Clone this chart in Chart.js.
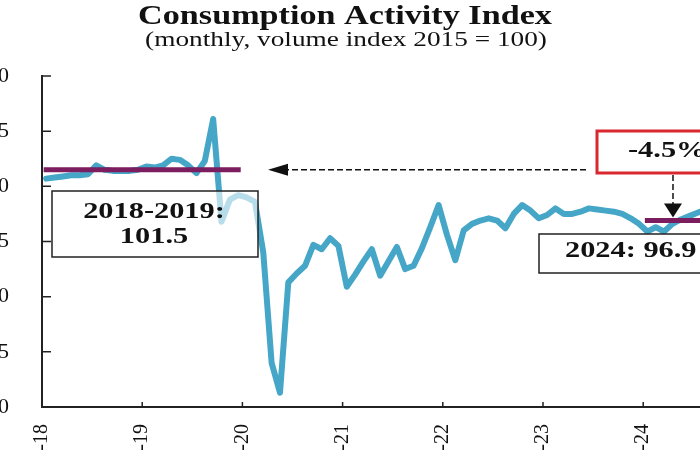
<!DOCTYPE html>
<html lang="en">
<head>
<meta charset="UTF-8">
<title>Consumption Activity Index</title>
<style>
  html, body { margin: 0; padding: 0; background: #fff; overflow: hidden; }
  .frame { position: relative; width: 700px; height: 450px; overflow: hidden; }
  #chart { position: absolute; left: -30px; top: 0; }
</style>
</head>
<body>
<div class="frame"><canvas id="chart" width="780" height="480"></canvas></div>
<script src="https://cdn.jsdelivr.net/npm/chart.js"></script>
<script>
// monthly index values, Jan-18 .. Aug-24
const values2018 = [100.7, 100.8, 100.9, 101.0, 101.0, 101.1, 101.9, 101.5, 101.4, 101.4, 101.4, 101.5];
const values2019 = [101.8, 101.7, 101.9, 102.5, 102.4, 101.9, 101.2, 102.3, 106.1, 96.8, 98.8, 99.2];
const values2020 = [99.0, 98.6, 94.0, 84.0, 81.3, 91.3, 92.1, 92.8, 94.7, 94.3, 95.3, 94.6];
const values2021 = [90.9, 92.0, 93.2, 94.3, 91.9, 93.2, 94.5, 92.5, 92.8, 94.4, 96.3, 98.3];
const values2022 = [95.6, 93.3, 96.0, 96.6, 96.9, 97.1, 96.9, 96.2, 97.5, 98.3, 97.8, 97.1];
const values2023 = [97.4, 98.0, 97.5, 97.5, 97.7, 98.0, 97.9, 97.8, 97.7, 97.5, 97.1, 96.6];
const values2024 = [95.9, 96.3, 95.9, 96.6, 97.0, 97.3, 97.6, 97.9];

// x tick labels, one per January
const yearLabels = ['Jan-18', 'Jan-19', 'Jan-20', 'Jan-21', 'Jan-22', 'Jan-23', 'Jan-24'];
const yTicks = [80, 85, 90, 95, 100, 105, 110];

// period averages: first and last month index, value
const avgPre = { from: 0, to: 23, value: 101.5 };   // 2018-2019
const avg2024 = { from: 72, to: 83, value: 96.9 };  // 2024
const changeLabel = '-4.5%';

const allValues = [].concat(values2018, values2019, values2020, values2021, values2022, values2023, values2024);
// points sit in the middle of their month
const mainPoints = allValues.map((v, i) => ({ x: i + 0.5, y: v }));
const avgLine = p => [{ x: p.from + 0.5, y: p.value }, { x: p.to + 0.5, y: p.value }];

const SHIFT = 30;      // canvas sits 30px left of the frame
const serif = '"Liberation Serif", "Times New Roman", serif';

// the original picture is stretched sideways, so text gets a horizontal scale
function wideText(ctx, text, x, y, font, align, sx) {
    ctx.save();
    ctx.font = font;
    ctx.textAlign = align || 'center';
    ctx.textBaseline = 'alphabetic';
    ctx.fillStyle = '#111';
    ctx.translate(x + SHIFT, y);
    ctx.scale(sx || 1.32, 1);
    ctx.fillText(text, 0, 0);
    ctx.restore();
}

function arrowHead(ctx, tipX, tipY, dir, len, half) {
    ctx.beginPath();
    if (dir === 'left') {
        ctx.moveTo(tipX, tipY);
        ctx.lineTo(tipX + len, tipY - half);
        ctx.lineTo(tipX + len, tipY + half);
    } else {
        ctx.moveTo(tipX, tipY);
        ctx.lineTo(tipX - half, tipY - len);
        ctx.lineTo(tipX + half, tipY - len);
    }
    ctx.closePath();
    ctx.fill();
}

// tick marks drawn inward, like the original
const inwardTicks = {
    id: 'inwardTicks',
    beforeDatasetsDraw(chart) {
        const { ctx, chartArea: a, scales: { x, y } } = chart;
        ctx.save();
        ctx.strokeStyle = '#222';
        ctx.lineWidth = 1.5;
        ctx.beginPath();
        y.ticks.forEach(t => {
            const py = y.getPixelForValue(t.value);
            ctx.moveTo(a.left, py);
            ctx.lineTo(a.left + 9, py);
        });
        x.ticks.forEach(t => {
            if (t.value === 0 || t.value >= 84) return;
            const px = x.getPixelForValue(t.value);
            ctx.moveTo(px, a.bottom);
            ctx.lineTo(px, a.bottom - 5);
        });
        ctx.stroke();
        ctx.restore();
    }
};

const notes = {
    id: 'notes',
    afterDatasetsDraw(chart) {
        const { ctx, scales: { y } } = chart;
        ctx.save();

        // 2018-2019 box (see-through so the line shows faintly)
        ctx.fillStyle = 'rgba(255,255,255,0.62)';
        ctx.strokeStyle = '#222';
        ctx.lineWidth = 1.5;
        ctx.fillRect(52 + SHIFT, 191, 206, 66);
        ctx.strokeRect(52 + SHIFT, 191, 206, 66);
        wideText(ctx, '2018-2019:', 154, 218, 'bold 23px ' + serif);
        wideText(ctx, avgPre.value.toFixed(1), 154, 243, 'bold 23px ' + serif);

        // 2024 box
        ctx.fillStyle = '#fff';
        ctx.fillRect(539 + SHIFT, 234, 230, 39);
        ctx.strokeRect(539 + SHIFT, 234, 230, 39);
        wideText(ctx, '2024: ' + avg2024.value.toFixed(1), 565, 257, 'bold 23px ' + serif, 'left');

        // red change box
        ctx.strokeStyle = '#d9282d';
        ctx.lineWidth = 3;
        ctx.fillRect(597 + SHIFT, 131, 200, 42);
        ctx.strokeRect(597 + SHIFT, 131, 200, 42);
        wideText(ctx, changeLabel, 628, 157, 'bold 23px ' + serif, 'left');

        // dashed arrows
        ctx.strokeStyle = '#111';
        ctx.fillStyle = '#111';
        ctx.lineWidth = 1.5;
        ctx.setLineDash([6, 3]);
        const ay = y.getPixelForValue(avgPre.value);
        ctx.beginPath();
        ctx.moveTo(586 + SHIFT, ay);
        ctx.lineTo(287 + SHIFT, ay);
        ctx.moveTo(673 + SHIFT, 175);
        ctx.lineTo(673 + SHIFT, 205);
        ctx.stroke();
        ctx.setLineDash([]);
        arrowHead(ctx, 268 + SHIFT, ay, 'left', 20, 6);
        arrowHead(ctx, 673 + SHIFT, y.getPixelForValue(avg2024.value) - 3, 'down', 14, 9);

        ctx.restore();
    },
    afterDraw(chart) {
        const { ctx } = chart;
        wideText(ctx, 'Consumption Activity Index', 345, 24, 'bold 28px ' + serif, 'center', 1.22);
        wideText(ctx, '(monthly, volume index 2015 = 100)', 346, 46, '21px ' + serif, 'center', 1.3);
    }
};

const ctx = document.getElementById('chart').getContext('2d');
new Chart(ctx, {
    type: 'line',
    data: {
        datasets: [
            {
                label: '2018-2019 average',
                data: avgLine(avgPre),
                borderColor: '#7b1d5e',
                borderWidth: 5,
                borderCapStyle: 'square',
                pointRadius: 0
            },
            {
                label: '2024 average',
                data: avgLine(avg2024),
                borderColor: '#7b1d5e',
                borderWidth: 5,
                borderCapStyle: 'square',
                pointRadius: 0
            },
            {
                label: 'Consumption Activity Index',
                data: mainPoints,
                borderColor: '#46a6c8',
                borderWidth: 6,
                borderJoinStyle: 'round',
                borderCapStyle: 'round',
                pointRadius: 0,
                tension: 0
            }
        ]
    },
    options: {
        responsive: false,
        animation: false,
        layout: { padding: { top: 76, left: 0, right: 6.6, bottom: 0 } },
        plugins: { legend: { display: false }, tooltip: { enabled: false } },
        scales: {
            x: {
                type: 'linear',
                min: 0,
                max: 84,
                grid: { display: false },
                border: { display: true, color: '#222', width: 2 },
                ticks: {
                    stepSize: 12,
                    autoSkip: false,
                    minRotation: 90,
                    maxRotation: 90,
                    padding: 9,
                    color: '#111',
                    font: { family: serif, size: 20 },
                    callback: v => (v % 12 === 0 && v < 84) ? yearLabels[v / 12] : null
                },
                afterFit: s => { s.height = 73; }
            },
            y: {
                min: yTicks[0],
                max: yTicks[yTicks.length - 1],
                grid: { display: false },
                border: { display: true, color: '#222', width: 2 },
                ticks: {
                    stepSize: 5,
                    padding: 25,
                    color: '#111',
                    font: { family: serif, size: 22 }
                },
                afterFit: s => { s.width = 72; }
            }
        }
    },
    plugins: [inwardTicks, notes]
});
</script>
</body>
</html>
